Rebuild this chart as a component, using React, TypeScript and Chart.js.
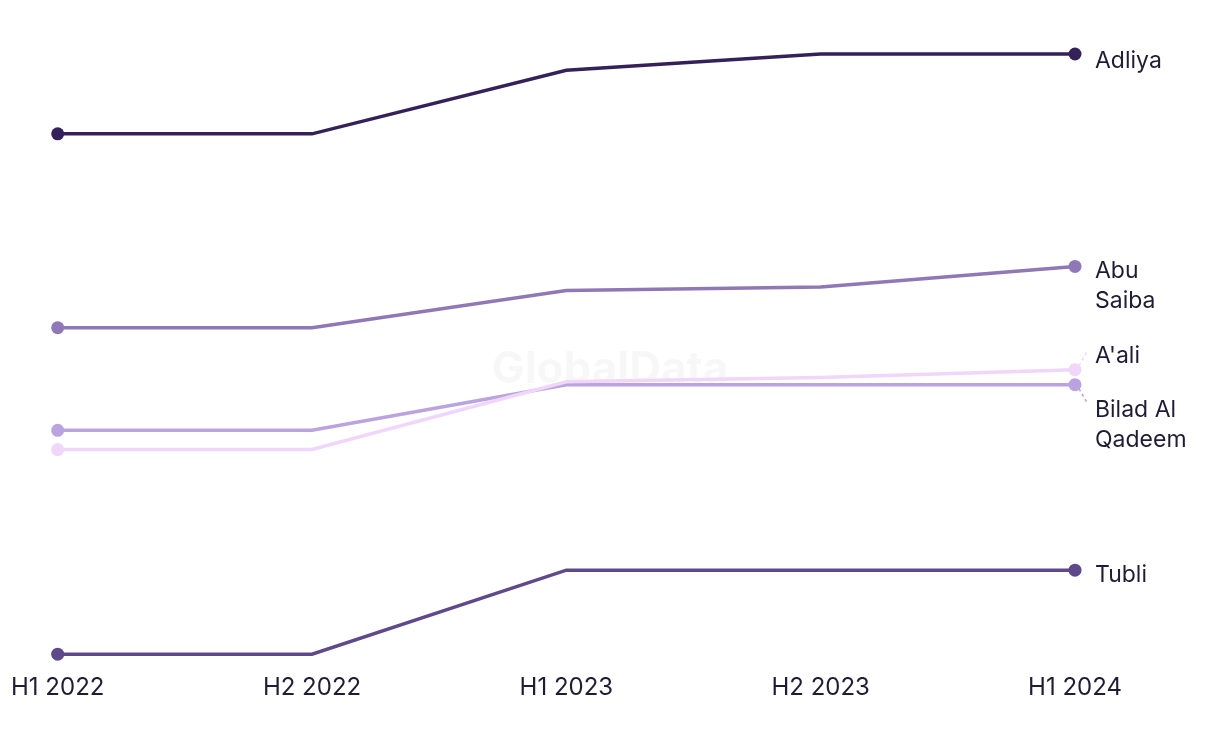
import React, { useEffect, useRef } from "react";
import { Chart, registerables } from "chart.js";

Chart.register(...registerables);

const categories = ["H1 2022", "H2 2022", "H1 2023", "H2 2023", "H1 2024"];
const seriesNames = ["Adliya", "Abu Saiba", "A'ali", "Bilad Al Qadeem", "Tubli"];
const adliya = [86.7, 86.7, 97.3, 100, 100];
const abuSaiba = [54.4, 54.4, 60.6, 61.2, 64.6];
const aali = [34.1, 34.1, 45.4, 46.1, 47.4];
const biladAlQadeem = [37.3, 37.3, 44.9, 44.9, 44.9];
const tubli = [0, 0, 14.0, 14.0, 14.0];

const colors = ["#35215a", "#8f78b5", "#efd6fa", "#bba3e0", "#5e4a8a"];
const labelLines = [["Adliya"], ["Abu", "Saiba"], ["A'ali"], ["Bilad Al", "Qadeem"], ["Tubli"]];
const labelOffsets = [7, 5, -14, 25, 5];
const leaders = [0, 0, -1, 1, 0];

const FONT = "Inter, 'Noto Sans', sans-serif";

const endLabels = {
  id: "endLabels",
  afterDatasetsDraw(chart: any) {
    const ctx = chart.ctx;
    ctx.save();
    ctx.font = `23px ${FONT}`;
    ctx.fillStyle = "#1f1d33";
    ctx.textBaseline = "middle";
    ctx.textAlign = "left";
    chart.data.datasets.forEach((ds: any, i: number) => {
      const meta = chart.getDatasetMeta(i);
      const pt = meta.data[meta.data.length - 1];
      const x = pt.x + 20;
      const y0 = pt.y + labelOffsets[i];
      labelLines[i].forEach((line, j) => {
        ctx.fillText(line, x, y0 + j * 30);
      });
      if (leaders[i] !== 0) {
        ctx.strokeStyle = ds.borderColor;
        ctx.lineWidth = 1.5;
        ctx.setLineDash([3, 3]);
        ctx.beginPath();
        ctx.moveTo(pt.x + 4, pt.y + leaders[i] * 4);
        ctx.lineTo(pt.x + 12, pt.y + leaders[i] * 18);
        ctx.stroke();
        ctx.setLineDash([]);
      }
    });
    ctx.restore();
  },
};

const watermark = {
  id: "watermark",
  beforeDatasetsDraw(chart: any) {
    const ctx = chart.ctx;
    ctx.save();
    ctx.font = `bold 44px ${FONT}`;
    ctx.fillStyle = "rgba(0,0,0,0.03)";
    ctx.textAlign = "center";
    ctx.textBaseline = "middle";
    ctx.fillText("GlobalData", 610, 370);
    ctx.restore();
  },
};

export default function App() {
  const ref = useRef<HTMLCanvasElement>(null);
  useEffect(() => {
    const data = [adliya, abuSaiba, aali, biladAlQadeem, tubli];
    const radii = categories.map((_, k) => (k === 0 || k === categories.length - 1 ? 6.5 : 0));
    const chart = new Chart(ref.current!, {
      type: "line",
      data: {
        labels: categories,
        datasets: seriesNames.map((name, i) => ({
          label: name,
          data: data[i],
          borderColor: colors[i],
          backgroundColor: colors[i],
          pointBackgroundColor: colors[i],
          pointBorderWidth: 0,
          pointRadius: radii,
          pointHoverRadius: radii,
          borderWidth: 3.5,
          tension: 0,
          clip: false as any,
        })),
      },
      options: {
        animation: false,
        responsive: false,
        maintainAspectRatio: false,
        layout: { padding: { left: 54, right: 145, top: 54, bottom: 31 } },
        plugins: { legend: { display: false }, tooltip: { enabled: false } },
        scales: {
          x: {
            offset: false,
            grid: { display: false },
            border: { display: false },
            ticks: {
              color: "#1f1d33",
              font: { family: FONT, size: 24 },
              padding: 11,
              maxRotation: 0,
              autoSkip: false,
            },
          },
          y: {
            display: false,
            min: 0,
            max: 100,
          },
        },
      },
      plugins: [watermark, endLabels],
    });
    return () => chart.destroy();
  }, []);
  return (
    <div style={{ position: "absolute", left: 0, top: 0, width: 1220, height: 744, background: "#fff" }}>
      <canvas ref={ref} width={1220} height={744} style={{ width: 1220, height: 744, display: "block" }} />
    </div>
  );
}
